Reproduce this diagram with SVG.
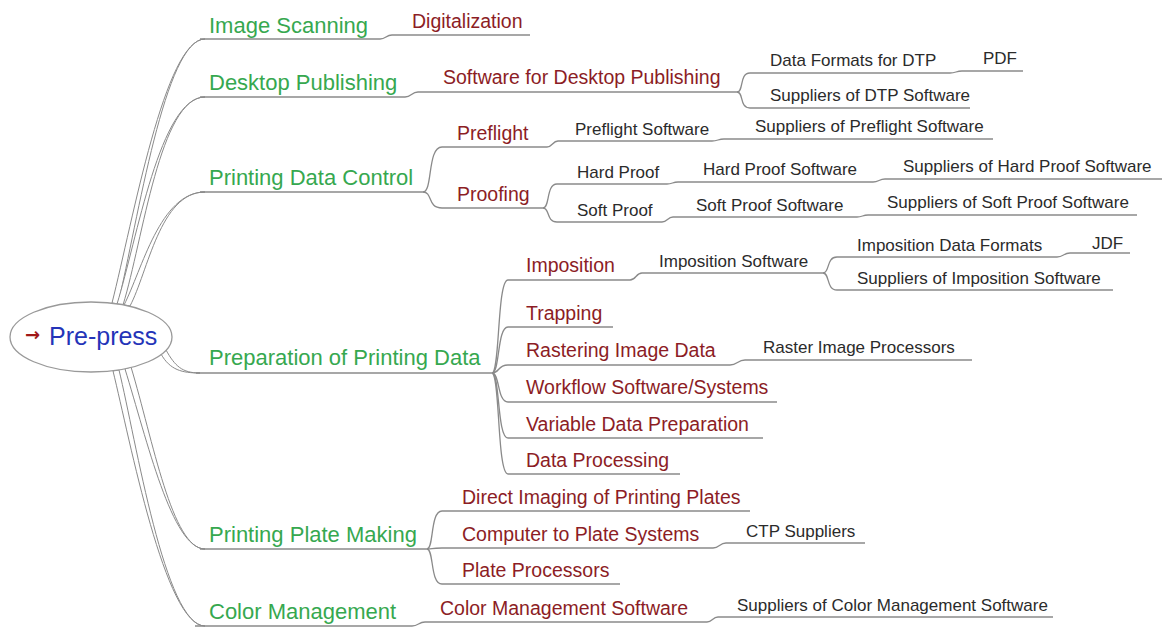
<svg xmlns="http://www.w3.org/2000/svg" width="1164" height="628" viewBox="0 0 1164 628">
<style>
text{font-family:"Liberation Sans",Arial,sans-serif}
.l1{font-size:22px;fill:#36a84f}
.l2{font-size:19.5px;fill:#8c1d25}
.l3{font-size:17px;fill:#2b2b2b}
.u,.c{fill:none;stroke:#8a8a8a;stroke-width:1.3}
.t{fill:#fff;stroke:#8a8a8a;stroke-width:1}
</style>
<rect width="1164" height="628" fill="#fff"/>
<g id="connectors">
<path class="t" d="M112,303 C133,220 165,39 205,39 C165,39 138,220 118,304 Z"/>
<path class="t" d="M117,304 C137,240 160,97 205,97 C160,97 143,240 123,305 Z"/>
<path class="t" d="M124,305 C142,270 160,192 205,192 C160,192 148,272 130,306 Z"/>
<path class="t" d="M166,350 C175,366 182,373 200,373 C182,373 170,370 161,354 Z"/>
<path class="t" d="M125,369 C147,440 172,549 205,549 C172,549 153,440 131,367 Z"/>
<path class="t" d="M113,371 C130,440 165,626 205,626 C165,626 136,440 119,370 Z"/>
<path class="c" d="M380,39 C386,39 386,35 392,35"/>
<path class="c" d="M405,97 C411.5,97 411.5,92 418,92"/>
<path class="c" d="M737,92 C744,92 739,73 750,73"/>
<path class="c" d="M737,92 C744,92 739,108 750,108"/>
<path class="c" d="M950,73 C956,73 956,71 962,71"/>
<path class="c" d="M423,192 C433,192 427,147 442,147"/>
<path class="c" d="M423,192 C433,192 427,208 442,208"/>
<path class="c" d="M547,147 C552.5,147 552.5,141 558,141"/>
<path class="c" d="M712,141 C718,141 718,139 724,139"/>
<path class="c" d="M543,208 C550,208 546,184 557,184"/>
<path class="c" d="M543,208 C550,208 546,222 557,222"/>
<path class="c" d="M667,184 C672.5,184 672.5,182 678,182"/>
<path class="c" d="M873,182 C879,182 879,179 885,179"/>
<path class="c" d="M662,222 C667.5,222 667.5,217 673,217"/>
<path class="c" d="M857,217 C862.5,217 862.5,215 868,215"/>
<path class="c" d="M492,373 C500,373 497,280 508,280"/>
<path class="c" d="M492,373 C500,373 497,327 508,327"/>
<path class="c" d="M492,373 C500,373 497,365 508,365"/>
<path class="c" d="M492,373 C500,373 497,402 508,402"/>
<path class="c" d="M492,373 C500,373 497,438 508,438"/>
<path class="c" d="M492,373 C500,373 497,474 508,474"/>
<path class="c" d="M630,280 C636,280 636,273 642,273"/>
<path class="c" d="M823,273 C830,273 826,257 837,257"/>
<path class="c" d="M823,273 C830,273 826,290 837,290"/>
<path class="c" d="M1057,257 C1063.5,257 1063.5,253 1070,253"/>
<path class="c" d="M730,365 C737.5,365 737.5,360 745,360"/>
<path class="c" d="M427,549 C434,549 430,511 442,511"/>
<path class="c" d="M427,549 C434,549 430,548 442,548"/>
<path class="c" d="M427,549 C434,549 430,584 442,584"/>
<path class="c" d="M713,548 C719.5,548 719.5,543 726,543"/>
<path class="c" d="M412,626 C418.5,626 418.5,622 425,622"/>
<path class="c" d="M707,622 C712.5,622 712.5,617 718,617"/>
</g>
<g id="root">
<ellipse cx="91" cy="337" rx="81" ry="35" fill="#fff" stroke="#999" stroke-width="1.3"/>
<text x="25" y="341" style="font-family:'DejaVu Sans',sans-serif;font-size:18px;font-weight:bold;fill:#a01818">→</text>
<text x="49" y="345" style="font-size:25px;fill:#2434b8">Pre-press</text>
</g>
<g id="image-scanning"><text class="l1" x="209" y="33">Image Scanning</text><path class="u" d="M200,39 H380"/></g>
<g id="digitalization"><text class="l2" x="412" y="28">Digitalization</text><path class="u" d="M392,35 H530"/></g>
<g id="desktop-publishing"><text class="l1" x="209" y="90">Desktop Publishing</text><path class="u" d="M200,97 H405"/></g>
<g id="software-dtp"><text class="l2" x="443" y="84">Software for Desktop Publishing</text><path class="u" d="M418,92 H737"/></g>
<g id="data-formats-dtp"><text class="l3" x="770" y="66">Data Formats for DTP</text><path class="u" d="M750,73 H950"/></g>
<g id="pdf"><text class="l3" x="983" y="64">PDF</text><path class="u" d="M962,71 H1023"/></g>
<g id="suppliers-dtp"><text class="l3" x="770" y="101">Suppliers of DTP Software</text><path class="u" d="M750,108 H970"/></g>
<g id="printing-data-control"><text class="l1" x="209" y="185">Printing Data Control</text><path class="u" d="M200,192 H423"/></g>
<g id="preflight"><text class="l2" x="457" y="140">Preflight</text><path class="u" d="M442,147 H547"/></g>
<g id="preflight-software"><text class="l3" x="575" y="135">Preflight Software</text><path class="u" d="M558,141 H712"/></g>
<g id="suppliers-preflight"><text class="l3" x="755" y="132">Suppliers of Preflight Software</text><path class="u" d="M724,139 H993"/></g>
<g id="proofing"><text class="l2" x="457" y="201">Proofing</text><path class="u" d="M442,208 H543"/></g>
<g id="hard-proof"><text class="l3" x="577" y="178">Hard Proof</text><path class="u" d="M557,184 H667"/></g>
<g id="hard-proof-software"><text class="l3" x="703" y="175">Hard Proof Software</text><path class="u" d="M678,182 H873"/></g>
<g id="suppliers-hard-proof"><text class="l3" x="903" y="172">Suppliers of Hard Proof Software</text><path class="u" d="M885,179 H1162"/></g>
<g id="soft-proof"><text class="l3" x="577" y="216">Soft Proof</text><path class="u" d="M557,222 H662"/></g>
<g id="soft-proof-software"><text class="l3" x="696" y="211">Soft Proof Software</text><path class="u" d="M673,217 H857"/></g>
<g id="suppliers-soft-proof"><text class="l3" x="887" y="208">Suppliers of Soft Proof Software</text><path class="u" d="M868,215 H1137"/></g>
<g id="preparation"><text class="l1" x="209" y="365">Preparation of Printing Data</text><path class="u" d="M196,373 H492"/></g>
<g id="imposition"><text class="l2" x="526" y="272">Imposition</text><path class="u" d="M508,280 H630"/></g>
<g id="imposition-software"><text class="l3" x="659" y="267">Imposition Software</text><path class="u" d="M642,273 H823"/></g>
<g id="imposition-data-formats"><text class="l3" x="857" y="251">Imposition Data Formats</text><path class="u" d="M837,257 H1057"/></g>
<g id="jdf"><text class="l3" x="1092" y="249">JDF</text><path class="u" d="M1070,253 H1130"/></g>
<g id="suppliers-imposition"><text class="l3" x="857" y="284">Suppliers of Imposition Software</text><path class="u" d="M837,290 H1113"/></g>
<g id="trapping"><text class="l2" x="526" y="320">Trapping</text><path class="u" d="M508,327 H613"/></g>
<g id="rastering"><text class="l2" x="526" y="357">Rastering Image Data</text><path class="u" d="M508,365 H730"/></g>
<g id="raster-image-processors"><text class="l3" x="763" y="353">Raster Image Processors</text><path class="u" d="M745,360 H972"/></g>
<g id="workflow"><text class="l2" x="526" y="394">Workflow Software/Systems</text><path class="u" d="M508,402 H777"/></g>
<g id="variable-data"><text class="l2" x="526" y="431">Variable Data Preparation</text><path class="u" d="M508,438 H763"/></g>
<g id="data-processing"><text class="l2" x="526" y="467">Data Processing</text><path class="u" d="M508,474 H680"/></g>
<g id="printing-plate-making"><text class="l1" x="209" y="542">Printing Plate Making</text><path class="u" d="M200,549 H427"/></g>
<g id="direct-imaging"><text class="l2" x="462" y="504">Direct Imaging of Printing Plates</text><path class="u" d="M442,511 H750"/></g>
<g id="computer-to-plate"><text class="l2" x="462" y="541">Computer to Plate Systems</text><path class="u" d="M442,548 H713"/></g>
<g id="ctp-suppliers"><text class="l3" x="746" y="537">CTP Suppliers</text><path class="u" d="M726,543 H865"/></g>
<g id="plate-processors"><text class="l2" x="462" y="577">Plate Processors</text><path class="u" d="M442,584 H620"/></g>
<g id="color-management"><text class="l1" x="209" y="619">Color Management</text><path class="u" d="M195,626 H412"/></g>
<g id="color-management-software"><text class="l2" x="440" y="615">Color Management Software</text><path class="u" d="M425,622 H707"/></g>
<g id="suppliers-color-management"><text class="l3" x="737" y="611">Suppliers of Color Management Software</text><path class="u" d="M718,617 H1053"/></g>
</svg>
